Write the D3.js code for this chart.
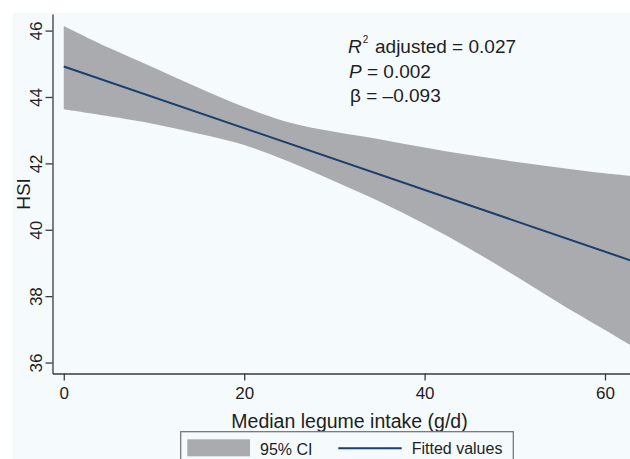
<!DOCTYPE html>
<html>
<head>
<meta charset="utf-8">
<script src="https://cdn.jsdelivr.net/npm/d3@7"></script>
<style>
  html, body { margin: 0; padding: 0; background: #ffffff; }
  svg { display: block; }
  text { font-family: "Liberation Sans", Arial, Helvetica, sans-serif; fill: #1e1e1e; }
</style>
</head>
<body>
<svg id="chart" width="630" height="459"></svg>
<script>
// Legume intake (g/d) grid for the confidence band
const ciX = [0, 5, 10, 15, 20, 25, 30, 35, 40, 45, 50, 55, 60, 62.8];
// Upper and lower 95% CI of HSI
const ciUpper = [46.14, 45.48, 44.88, 44.27, 43.70, 43.23, 42.95, 42.73, 42.48, 42.25, 42.05, 41.87, 41.70, 41.62];
const ciLower = [43.63, 43.42, 43.19, 42.89, 42.55, 42.05, 41.46, 40.85, 40.17, 39.43, 38.62, 37.78, 36.98, 36.53];
// Fitted regression line (β = -0.093)
const fitX = [0, 62.8];
const fitY = [44.92, 39.08];

const xTicks = [0, 20, 40, 60];
const yTicks = [36, 38, 40, 42, 44, 46];
const legendLabels = ["95% CI", "Fitted values"];
const statLines = [
  { label: "R", sup: "2", rest: "adjusted = 0.027" },
  { label: "P", rest: "= 0.002" },
  { label: "\u03B2", rest: "= \u20130.093" }
];

const svg = d3.select("#chart");
const W = 630, H = 459;
const bandColor = "#aaabae";
const lineColor = "#1a3f6e";
const axisColor = "#3a3a3a";

// Graph region
svg.append("rect").attr("x", 0).attr("y", 0).attr("width", W).attr("height", H).attr("fill", "#ffffff");
svg.append("rect").attr("x", 13).attr("y", 13).attr("width", W - 13).attr("height", H - 13).attr("fill", "#f5fafd");

const plot = { left: 52.5, right: 630, top: 14, bottom: 373.5 };

const x = d3.scaleLinear().domain([-1.25, 62.77]).range([plot.left, plot.right]);
const y = d3.scaleLinear().domain([35.67, 46.5]).range([plot.bottom, plot.top]);

svg.append("clipPath").attr("id", "clip")
  .append("rect").attr("x", plot.left).attr("y", plot.top)
  .attr("width", plot.right - plot.left).attr("height", plot.bottom - plot.top);

const g = svg.append("g").attr("clip-path", "url(#clip)");

// Confidence band
const bandData = ciX.map((v, i) => ({ x: v, lo: ciLower[i], hi: ciUpper[i] }));
const area = d3.area()
  .x(d => x(d.x))
  .y0(d => y(d.lo))
  .y1(d => y(d.hi))
  .curve(d3.curveCatmullRom);
g.append("path").datum(bandData).attr("d", area).attr("fill", bandColor);

// Fitted line
const fitData = fitX.map((v, i) => ({ x: v, y: fitY[i] }));
g.append("path").datum(fitData)
  .attr("d", d3.line().x(d => x(d.x)).y(d => y(d.y)))
  .attr("fill", "none").attr("stroke", lineColor).attr("stroke-width", 2);

// X axis
const xAxis = svg.append("g")
  .attr("transform", `translate(0,${plot.bottom})`)
  .call(d3.axisBottom(x).tickValues(xTicks).tickSize(7).tickSizeOuter(0).tickPadding(6));
xAxis.select(".domain").attr("stroke", axisColor).attr("stroke-width", 1.3);
xAxis.selectAll(".tick line").attr("stroke", axisColor).attr("stroke-width", 1.3);
xAxis.selectAll(".tick text").attr("font-size", 17).attr("fill", "#1e1e1e")
  .style("font-family", "'Liberation Sans', Arial, sans-serif");

// Y axis
const yAxis = svg.append("g")
  .attr("transform", `translate(${plot.left},0)`)
  .call(d3.axisLeft(y).tickValues(yTicks).tickSize(7).tickSizeOuter(0));
yAxis.select(".domain").attr("stroke", axisColor).attr("stroke-width", 1.3);
yAxis.selectAll(".tick line").attr("stroke", axisColor).attr("stroke-width", 1.3);
yAxis.selectAll(".tick text")
  .attr("font-size", 17).attr("fill", "#1e1e1e")
  .style("font-family", "'Liberation Sans', Arial, sans-serif")
  .attr("x", null).attr("dy", null).attr("y", 0)
  .attr("text-anchor", "middle")
  .attr("transform", `translate(${42 - plot.left},0) rotate(-90)`);

// Axis titles
svg.append("text")
  .attr("x", 349.5).attr("y", 428)
  .attr("text-anchor", "middle").attr("font-size", 19.5)
  .text("Median legume intake (g/d)");

svg.append("text")
  .attr("transform", "translate(29.5,194) rotate(-90)")
  .attr("text-anchor", "middle").attr("font-size", 19)
  .text("HSI");

// Regression statistics
const statY = [53, 78, 102];
statLines.forEach((s, i) => {
  const t = svg.append("text").attr("x", 348 + i).attr("y", statY[i]).attr("font-size", 19);
  t.append("tspan").attr("font-style", i < 2 ? "italic" : "normal").text(s.label);
  if (s.sup) {
    t.append("tspan").attr("font-size", 10).attr("dy", -10).attr("dx", 1).text(s.sup);
    t.append("tspan").attr("x", 375).attr("dy", 10).text(s.rest);
  } else {
    t.append("tspan").text(" " + s.rest);
  }
});

// Legend
const leg = svg.append("g");
leg.append("rect")
  .attr("x", 180.7).attr("y", 431.7).attr("width", 332.6).attr("height", 40)
  .attr("fill", "#f5fafd").attr("stroke", "#6e6e6e").attr("stroke-width", 1.2);
leg.append("rect")
  .attr("x", 187.3).attr("y", 439.3).attr("width", 62.7).attr("height", 17)
  .attr("fill", bandColor);
leg.append("text").attr("x", 260).attr("y", 455).attr("font-size", 16).text(legendLabels[0]);
leg.append("line")
  .attr("x1", 338.3).attr("x2", 401.7).attr("y1", 448.3).attr("y2", 448.3)
  .attr("stroke", lineColor).attr("stroke-width", 2);
leg.append("text").attr("x", 411.7).attr("y", 454).attr("font-size", 16).text(legendLabels[1]);
</script>
</body>
</html>
